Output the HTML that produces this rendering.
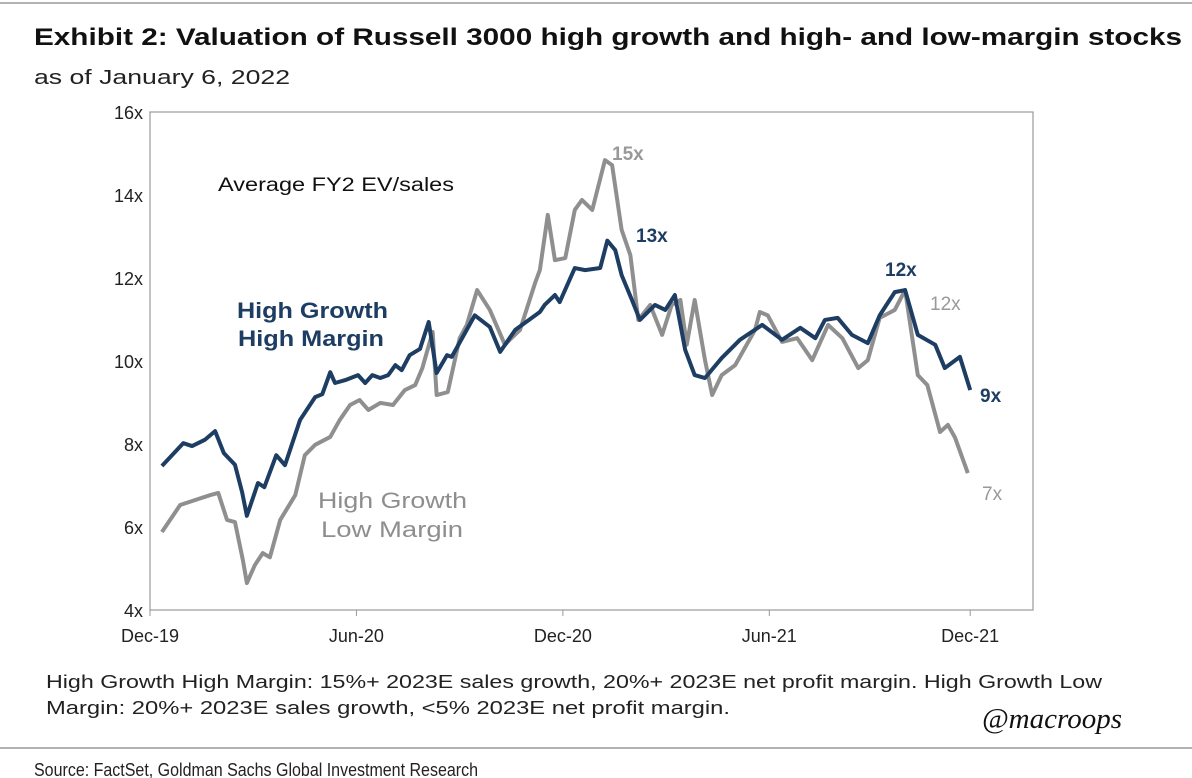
<!DOCTYPE html>
<html><head><meta charset="utf-8"><style>
body{margin:0;background:#fff;width:1192px;height:778px;overflow:hidden;font-family:"Liberation Sans",Arial,sans-serif}
svg{position:absolute;left:0;top:0}
</style></head><body>
<svg width="1192" height="778">
<line x1="0" y1="3" x2="1192" y2="3" stroke="#999" stroke-width="1.5"/>
<text x="34" y="45" font-size="24" font-weight="bold" fill="#111" textLength="1148" lengthAdjust="spacingAndGlyphs">Exhibit 2: Valuation of Russell 3000 high growth and high- and low-margin stocks</text>
<text x="34" y="84" font-size="20" fill="#222" textLength="256" lengthAdjust="spacingAndGlyphs">as of January 6, 2022</text>
<rect x="150" y="112" width="883" height="498" fill="none" stroke="#999" stroke-width="1.2"/>
<g id="yt"></g><g id="xt"></g>
<g id="lines"></g>
<text x="218" y="191" font-size="19" fill="#111" textLength="236" lengthAdjust="spacingAndGlyphs">Average FY2 EV/sales</text>
<text x="237" y="318" font-size="22" font-weight="bold" fill="#1d3d63" textLength="151" lengthAdjust="spacingAndGlyphs">High Growth</text>
<text x="238" y="346" font-size="22" font-weight="bold" fill="#1d3d63" textLength="146" lengthAdjust="spacingAndGlyphs">High Margin</text>
<text x="318" y="508" font-size="22" fill="#8e8e8e" textLength="149" lengthAdjust="spacingAndGlyphs">High Growth</text>
<text x="321" y="537" font-size="22" fill="#8e8e8e" textLength="142" lengthAdjust="spacingAndGlyphs">Low Margin</text>
<text x="612" y="160" font-size="19" font-weight="bold" fill="#999">15x</text>
<text x="636" y="242" font-size="19" font-weight="bold" fill="#1d3d63">13x</text>
<text x="885" y="276" font-size="19" font-weight="bold" fill="#1d3d63">12x</text>
<text x="930" y="310" font-size="19" fill="#999">12x</text>
<text x="980" y="402" font-size="19" font-weight="bold" fill="#1d3d63">9x</text>
<text x="982" y="500" font-size="19" fill="#999">7x</text>
<text x="46" y="688" font-size="18" fill="#222" textLength="1056" lengthAdjust="spacingAndGlyphs">High Growth High Margin: 15%+ 2023E sales growth, 20%+ 2023E net profit margin. High Growth Low</text>
<text x="46" y="714" font-size="18" fill="#222" textLength="684" lengthAdjust="spacingAndGlyphs">Margin: 20%+ 2023E sales growth, &lt;5% 2023E net profit margin.</text>
<text x="1122" y="728" font-size="29" font-style="italic" fill="#111" text-anchor="end" font-family="Liberation Serif,serif">@macroops</text>
<line x1="0" y1="748" x2="1192" y2="748" stroke="#999" stroke-width="1.5"/>
<text x="34" y="776" font-size="18" fill="#222" textLength="444" lengthAdjust="spacingAndGlyphs">Source: FactSet, Goldman Sachs Global Investment Research</text>
</svg>
<script>
const yTicks=[4,6,8,10,12,14,16];
const xLabels=["Dec-19","Jun-20","Dec-20","Jun-21","Dec-21"];
const xLabelWeeks=[0,26,52,78,103.3];
const hmWeeks=[1.5,4.2,5.3,6.9,8.2,9.3,10.7,11.6,12.2,13.6,14.4,15.9,17,18.9,20.8,21.7,22.7,23.3,24.6,26.2,27.1,28,29,30,30.9,31.7,32.7,34,35.1,36.1,37.4,38,40.9,42.8,44.1,46,49.1,49.7,51,51.6,53.5,54.8,56.7,57.6,58.6,59.4,60.7,61.7,63.6,64.9,66.1,67.4,68.6,69.9,72,74.3,77.1,79.6,81.9,83.8,85,86.6,88.4,90.4,91.9,93.8,95.1,96.7,98.9,100.1,102,103.3];
const hmValues=[7.47,8.02,7.95,8.1,8.31,7.78,7.5,6.84,6.27,7.06,6.96,7.73,7.49,8.58,9.13,9.2,9.73,9.47,9.54,9.66,9.47,9.66,9.59,9.66,9.9,9.78,10.14,10.29,10.94,9.71,10.14,10.1,11.1,10.82,10.22,10.75,11.18,11.35,11.59,11.42,12.24,12.19,12.24,12.9,12.67,12.07,11.47,10.99,11.35,11.23,11.59,10.27,9.66,9.59,10.07,10.51,10.87,10.51,10.8,10.55,10.99,11.04,10.63,10.43,11.1,11.66,11.71,10.63,10.39,9.83,10.1,9.3];
const lmWeeks=[1.5,3.8,5.7,7.6,8.6,9.7,10.7,11.7,12.2,13.2,14.2,15.1,16.4,18.3,19.5,20.8,22.7,23.9,25.2,26.4,27.5,29,30.6,32.1,33.4,34.3,35.6,36.1,37.5,39,39.9,41.2,42.8,44.7,45.3,46.6,48.5,49.1,50.1,51,52.3,53.5,54.4,55.7,57.3,58.2,59.4,60.5,61.5,63,64.5,65.7,66.8,67.6,68.6,69.9,70.8,72,73.7,76.2,76.8,77.8,79.6,81.5,83.4,85.4,87.2,89.2,90.4,91.9,93.8,95.1,96.7,97.9,99.5,100.5,101.4,103];
const lmValues=[5.88,6.53,6.65,6.77,6.82,6.17,6.12,5.2,4.65,5.08,5.37,5.27,6.17,6.77,7.73,7.98,8.17,8.58,8.94,9.06,8.82,8.99,8.94,9.3,9.42,9.83,10.7,9.18,9.25,10.55,10.87,11.71,11.23,10.39,10.51,10.75,11.88,12.19,13.52,12.43,12.48,13.64,13.88,13.64,14.84,14.72,13.16,12.55,10.99,11.35,10.63,11.35,11.47,10.39,11.47,10.02,9.18,9.66,9.9,10.75,11.18,11.1,10.46,10.55,10.02,10.87,10.55,9.83,10.02,11.04,11.23,11.71,9.66,9.42,8.29,8.46,8.15,7.3];
const NS="http://www.w3.org/2000/svg";
const x=w=>150+w*7.94;
const y=v=>610-(v-4)*41.5;
const yt=document.getElementById('yt'),xt=document.getElementById('xt'),lg=document.getElementById('lines');
yTicks.forEach(v=>{const t=document.createElementNS(NS,'text');


t.setAttribute('x',143);t.setAttribute('y',y(v)+7);t.setAttribute('text-anchor','end');t.setAttribute('font-size','18');t.setAttribute('fill','#222');t.textContent=v+'x';yt.appendChild(t);});
xLabels.forEach((l,i)=>{const t=document.createElementNS(NS,'text');


t.setAttribute('x',x(xLabelWeeks[i]));t.setAttribute('y',642);t.setAttribute('text-anchor','middle');t.setAttribute('font-size','18');t.setAttribute('fill','#222');t.textContent=l;xt.appendChild(t);
const k=document.createElementNS(NS,'line');


k.setAttribute('x1',x(xLabelWeeks[i]));k.setAttribute('x2',x(xLabelWeeks[i]));k.setAttribute('y1',610);k.setAttribute('y2',616);k.setAttribute('stroke','#999');xt.appendChild(k);});
function line(ws,vs,col,name){const p=document.createElementNS(NS,'polyline');


p.setAttribute('points',ws.map((w,i)=>x(w)+','+y(vs[i])).join(' '));p.setAttribute('fill','none');p.setAttribute('stroke',col);p.setAttribute('stroke-width','4');p.setAttribute('stroke-linejoin','round');lg.appendChild(p);}
line(lmWeeks,lmValues,'#8f8f8f','low-margin-line');
line(hmWeeks,hmValues,'#1d3d63','high-margin-line');
</script>
</body></html>
